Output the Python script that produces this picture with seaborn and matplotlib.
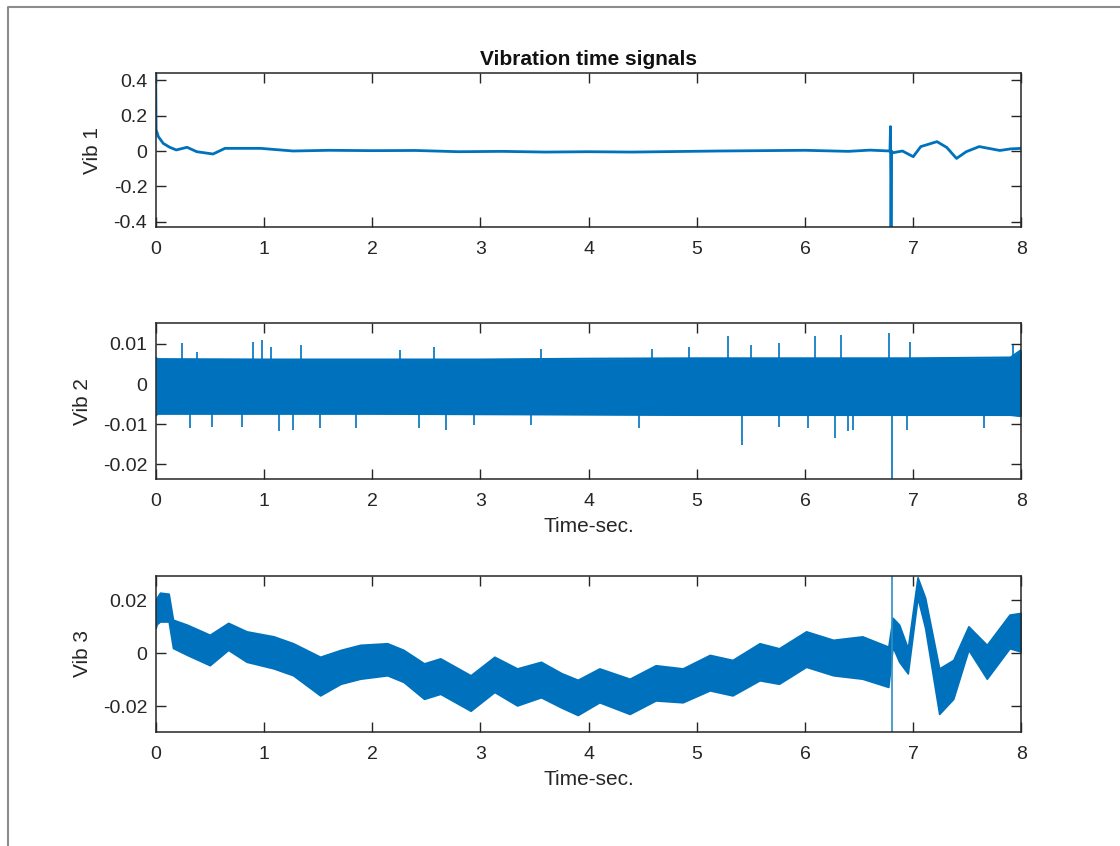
import numpy as np
import pandas as pd
import matplotlib
matplotlib.use('Agg')
import matplotlib.pyplot as plt
import seaborn as sns
from matplotlib.lines import Line2D

# Vib 1: trace (time, value)
vib1_t = [0.0, 0.004, 0.025, 0.07, 0.13, 0.19, 0.29, 0.38, 0.53, 0.64, 0.97, 1.27,
          1.6, 2.0, 2.4, 2.8, 3.2, 3.6, 4.0, 4.4, 4.8, 5.2, 5.6, 6.0, 6.4, 6.6,
          6.785, 6.79, 6.795, 6.80, 6.81, 6.9, 7.0, 7.07, 7.22, 7.31, 7.4, 7.49,
          7.61, 7.8, 7.9, 8.0]
vib1_v = [0.44, 0.12, 0.081, 0.043, 0.021, 0.006, 0.021, -0.004, -0.017, 0.015, 0.015, 0.0,
          0.004, 0.002, 0.003, -0.004, -0.002, -0.006, -0.004, -0.006, -0.003, 0.0, 0.002, 0.004, -0.002, 0.005,
          0.0, 0.138, -0.43, 0.0, -0.01, 0.0, -0.032, 0.025, 0.053, 0.02, -0.042, -0.004,
          0.025, 0.003, 0.012, 0.015]

# Vib 2: band envelope and spikes
vib2_t = [0.0, 0.02, 1.0, 2.0, 3.0, 4.0, 5.0, 6.0, 7.0, 7.9, 8.0]
vib2_hi = [0.0065, 0.0062, 0.0061, 0.0061, 0.0061, 0.0063, 0.0064, 0.0064, 0.0064, 0.0066, 0.0085]
vib2_lo = [-0.0078, -0.0074, -0.0074, -0.0074, -0.0075, -0.0076, -0.0077, -0.0077, -0.0077, -0.0077, -0.0080]
vib2_spike_t = [0.24, 0.38, 0.90, 0.98, 1.07, 1.34, 2.26, 2.57, 3.56, 4.59, 4.93, 5.29, 5.50,
                5.76, 6.09, 6.33, 6.78, 6.97, 7.92,
                0.32, 0.52, 0.80, 1.14, 1.27, 1.52, 1.85, 2.43, 2.68, 2.94, 3.47, 4.47, 5.42,
                5.76, 6.03, 6.28, 6.40, 6.44, 6.80, 6.94, 7.65]
vib2_spike_v = [0.0101, 0.0080, 0.0105, 0.0110, 0.0093, 0.0097, 0.0084, 0.0093, 0.0088, 0.0088, 0.0093, 0.0119, 0.0097,
                0.0101, 0.0119, 0.0121, 0.0126, 0.0105, 0.0097,
                -0.0110, -0.0106, -0.0106, -0.0118, -0.0114, -0.0110, -0.0110, -0.0110, -0.0114, -0.0102, -0.0102, -0.0110, -0.0151,
                -0.0106, -0.0110, -0.0135, -0.0118, -0.0114, -0.0238, -0.0114, -0.0110]

# Vib 3: band envelope
vib3_t = [0.0, 0.01, 0.04, 0.12, 0.16, 0.29, 0.50, 0.67, 0.84, 1.09, 1.27, 1.52, 1.71, 1.89,
          2.14, 2.29, 2.48, 2.63, 2.91, 3.13, 3.34, 3.56, 3.75, 3.90, 4.10, 4.38, 4.62, 4.87,
          5.12, 5.33, 5.58, 5.76, 6.01, 6.26, 6.53, 6.77, 6.81, 6.87, 6.95, 7.04, 7.11,
          7.24, 7.37, 7.51, 7.68, 7.89, 8.0]
vib3_hi = [0.0197, 0.021, 0.0229, 0.0225, 0.0127, 0.0108, 0.0070, 0.0115, 0.0083, 0.0064, 0.0038, -0.0013, 0.0013, 0.0032,
           0.0038, 0.0013, -0.0038, -0.0019, -0.0083, -0.0013, -0.0057, -0.0032, -0.0075, -0.0100, -0.0057, -0.0096, -0.0045, -0.0057,
           -0.0006, -0.0025, 0.0038, 0.0019, 0.0083, 0.0051, 0.0064, 0.0025, 0.0134, 0.0108, 0.0019, 0.0287, 0.0210,
           -0.0057, -0.0025, 0.0102, 0.0032, 0.0146, 0.0153]
vib3_lo = [0.0096, 0.011, 0.012, 0.012, 0.0020, -0.0006, -0.0045, 0.0013, -0.0032, -0.0057, -0.0083, -0.0159, -0.0115, -0.0096,
           -0.0083, -0.0108, -0.0172, -0.0153, -0.0217, -0.0146, -0.0197, -0.0166, -0.0205, -0.0233, -0.0185, -0.0229, -0.0178, -0.0185,
           -0.0140, -0.0159, -0.0102, -0.0115, -0.0051, -0.0083, -0.0096, -0.0127, 0.0025, -0.0032, -0.0076, 0.0210, 0.0096,
           -0.0229, -0.0172, 0.0013, -0.0096, 0.0019, 0.0006]
vib3_spike_t = [6.80]

ylims = [(-0.43, 0.44), (-0.0237, 0.0151), (-0.0296, 0.0293)]
yticks = [[-0.4, -0.2, 0, 0.2, 0.4], [-0.02, -0.01, 0, 0.01], [-0.02, 0, 0.02]]
yticklabels = [['-0.4', '-0.2', '0', '0.2', '0.4'], ['-0.02', '-0.01', '0', '0.01'], ['-0.02', '0', '0.02']]
ylabels = ['Vib 1', 'Vib 2', 'Vib 3']

sns.set_style('ticks')
plt.rcParams['font.family'] = ['Liberation Sans', 'DejaVu Sans']

blue = '#0072BD'
dark = '#262626'

fig = plt.figure(figsize=(11.2, 8.46), dpi=100)
rows = [(0.7317, 0.9134), (0.4334, 0.6178), (0.1351, 0.3195)]
axes = [fig.add_axes([0.139, b, 0.773, t - b]) for b, t in rows]

# panel 1
df1 = pd.DataFrame({'t': vib1_t, 'v': vib1_v})
sns.lineplot(data=df1, x='t', y='v', ax=axes[0], color=blue, linewidth=2.0,
             sort=False, estimator=None)

# panel 2
ax = axes[1]
ax.fill_between(vib2_t, vib2_lo, vib2_hi, color=blue, linewidth=0)
ax.vlines(vib2_spike_t, 0, vib2_spike_v, color=blue, linewidth=1.2)
df2 = pd.DataFrame({'t': vib2_t, 'v': vib2_hi})
sns.lineplot(data=df2, x='t', y='v', ax=ax, color=blue, linewidth=1.5, estimator=None)
df2b = pd.DataFrame({'t': vib2_t, 'v': vib2_lo})
sns.lineplot(data=df2b, x='t', y='v', ax=ax, color=blue, linewidth=1.5, estimator=None)

# panel 3
ax = axes[2]
ax.fill_between(vib3_t, vib3_lo, vib3_hi, color=blue, linewidth=1.2, edgecolor=blue)
ax.vlines(vib3_spike_t, ylims[2][0], ylims[2][1], color='#2f8fc4', linewidth=1.2)

for i, ax in enumerate(axes):
    ax.set_xlim(0, 8)
    ax.set_ylim(*ylims[i])
    ax.set_xticks(range(9))
    ax.set_xticklabels([str(k) for k in range(9)])
    ax.set_yticks(yticks[i])
    ax.set_yticklabels(yticklabels[i])
    ax.tick_params(direction='in', length=7, width=1, colors=dark, labelcolor=dark,
                   labelsize=14, top=True, right=True)
    ax.tick_params(axis='x', pad=10)
    ax.tick_params(axis='y', pad=6)
    for s in ax.spines.values():
        s.set_visible(True)
        s.set_color(dark)
        s.set_linewidth(1.1)
    ax.set_ylabel(ylabels[i], fontsize=15, color=dark, labelpad=8)
    if i > 0:
        ax.set_xlabel('Time-sec.', fontsize=15, color=dark, labelpad=5)
    else:
        ax.set_xlabel('')

axes[0].set_title('Vibration time signals', fontsize=15, fontweight='bold', color='#111111', pad=6)

# outer figure border (top and left edges visible in the reference)
fig.add_artist(Line2D([8 / 1120, 8 / 1120, 1.0], [0.0, 1 - 7 / 846, 1 - 7 / 846],
                      transform=fig.transFigure, color='#8c8c8c', linewidth=1.5))

fig.savefig('out.png', dpi=100)
